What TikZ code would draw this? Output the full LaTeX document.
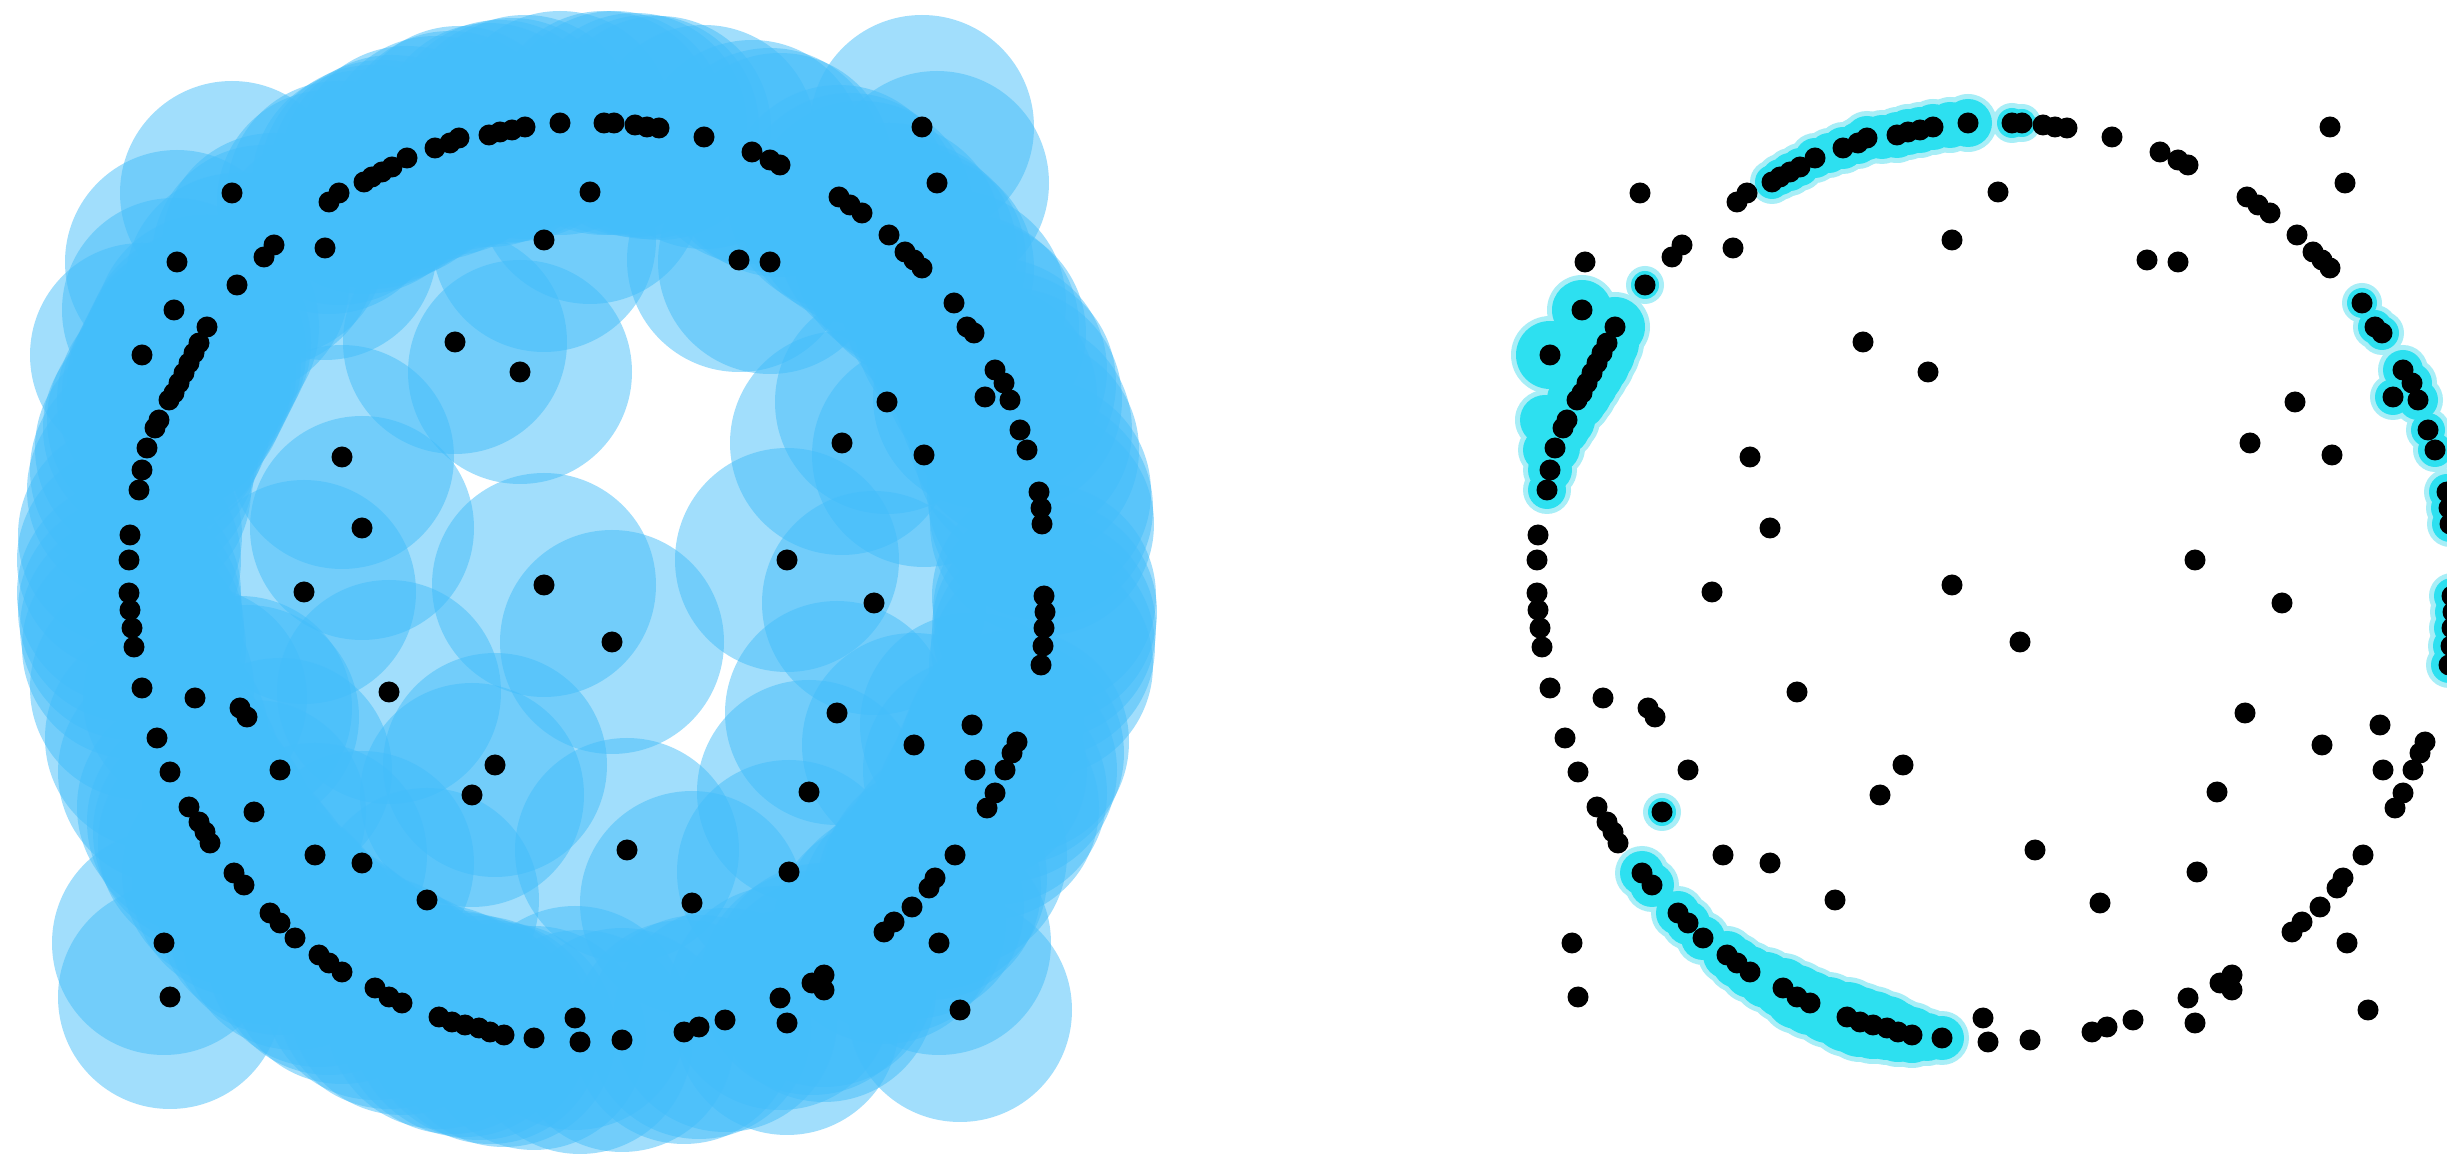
\documentclass[tikz,border=0pt]{standalone}
\begin{document}
\begin{tikzpicture}[x=0.1mm,y=-0.1mm]
\definecolor{discblue}{RGB}{68,190,250}
\definecolor{cyanin}{RGB}{45,224,240}
\definecolor{cyanout}{RGB}{168,238,247}
\tikzset{dot/.style={fill=black}, disc/.style={fill=discblue, fill opacity=0.5}}
\useasboundingbox (0,0) rectangle (2447,1154);
\fill[white] (0,0) rectangle (2447,1154);
\clip (0,0) rectangle (2447,1154);
\def\ptlist{1968/123,1933/127,1920/130,1908/132,1897/135,1867/138,1858/143,1843/148,1815/158,1800/167,1790/172,1780/177,1772/182,1747/193,1737/202,1682/245,1672/257,1733/248,1640/193,1585/262,1645/285,1582/310,1615/327,1550/355,1607/343,1602/353,1597/363,1592/373,1587/383,1582/393,1577/400,1567/420,1563/428,1555/448,1550/470,1547/490,1538/535,1537/560,1952/240,1863/342,1928/372,1750/457,1770/528,2012/123,2022/123,2043/125,2055/127,2067/128,2112/137,2160/152,2178/160,2188/165,2330/127,2345/183,1998/192,2247/197,2258/205,2270/213,2297/235,2313/252,2322/260,2330/268,2147/260,2178/262,2362/303,2375/327,2382/333,2403/370,2412/383,2418/400,2393/397,2428/430,2435/450,2295/402,2250/443,2332/455,2195/560,2447/492,2449/508,2450/524,2452/596,2453/612,2452/628,2451/646,2449/665,1537/593,1538/610,1540/628,1542/647,1712/592,1952/585,1550/688,1603/698,1648/708,1655/717,1797/692,1565/738,1578/772,1688/770,1903/765,1880/795,1597/807,1607/822,1613/832,1618/843,1662/812,1723/855,1770/863,1642/873,1652/885,1835/900,1678/913,1688/923,1703/938,1727/955,1737/963,1750/972,1783/988,1797/997,1810/1003,1847/1017,1860/1022,1873/1025,1887/1028,1898/1032,1912/1035,1942/1038,1572/943,1578/997,2282/603,2020/642,2245/713,2380/725,2322/745,2425/742,2420/753,2383/770,2413/770,2403/793,2395/808,2217/792,2035/850,2197/872,2363/855,2343/878,2337/888,2320/907,2302/922,2292/932,2347/943,2100/903,2232/975,2220/983,2232/990,2188/998,2195/1023,2133/1020,2107/1027,2092/1032,2030/1040,1983/1018,1988/1042,2368/1010}
\def\cylist{1772/182/17,1780/177/18,1790/172/19,1800/167/19,1815/158/20,1829/153/20,1843/148/21,1858/143/21,1867/138/22,1882/137/22,1897/135/23,1908/132/23,1920/130/23,1933/127/23,1950/125/23,1968/123/24,2012/123/15,2022/123/14,1582/310/30,1550/355/34,1615/327/30,1607/343/32,1602/353/33,1597/363/33,1592/373/32,1587/383/31,1582/393/30,1577/400/30,1567/420/28,1563/428/27,1555/448/25,1550/470/22,1547/490/19,1545/420/25,1545/450/22,1645/285/14,1642/873/22,1652/885/22,1678/913/22,1688/923/22,1703/938/22,1727/955/24,1737/963/25,1750/972/26,1766/980/28,1783/988/30,1797/997/32,1810/1003/32,1828/1010/33,1847/1017/35,1860/1022/35,1873/1025/34,1887/1028/32,1898/1032/30,1912/1035/28,1927/1037/24,1942/1038/22,1662/812/14,2362/303/15,2375/327/17,2382/333/17,2403/370/20,2412/383/20,2418/400/20,2393/397/18,2428/430/17,2435/450/17,2447/492/18,2449/508/18,2450/524/18,2452/596/18,2453/612/18,2452/628/18,2451/646/18,2449/665/18}
% left panel: translucent discs
\foreach \px/\py in \ptlist {\path[disc] (\px-1408,\py) circle[radius=11.2mm];}
\foreach \px/\py in \ptlist {\path[dot] (\px-1408,\py) circle[radius=1.05mm];}
% right panel: cyan highlights
\foreach \px/\py/\r in \cylist {\fill[cyanout] (\px,\py) circle[radius={\r*0.1mm+0.5mm}];}
\foreach \px/\py/\r in \cylist {\fill[cyanin] (\px,\py) circle[radius={\r*0.1mm}];}
\foreach \px/\py in \ptlist {\path[dot] (\px,\py) circle[radius=1.05mm];}
\end{tikzpicture}
\end{document}
